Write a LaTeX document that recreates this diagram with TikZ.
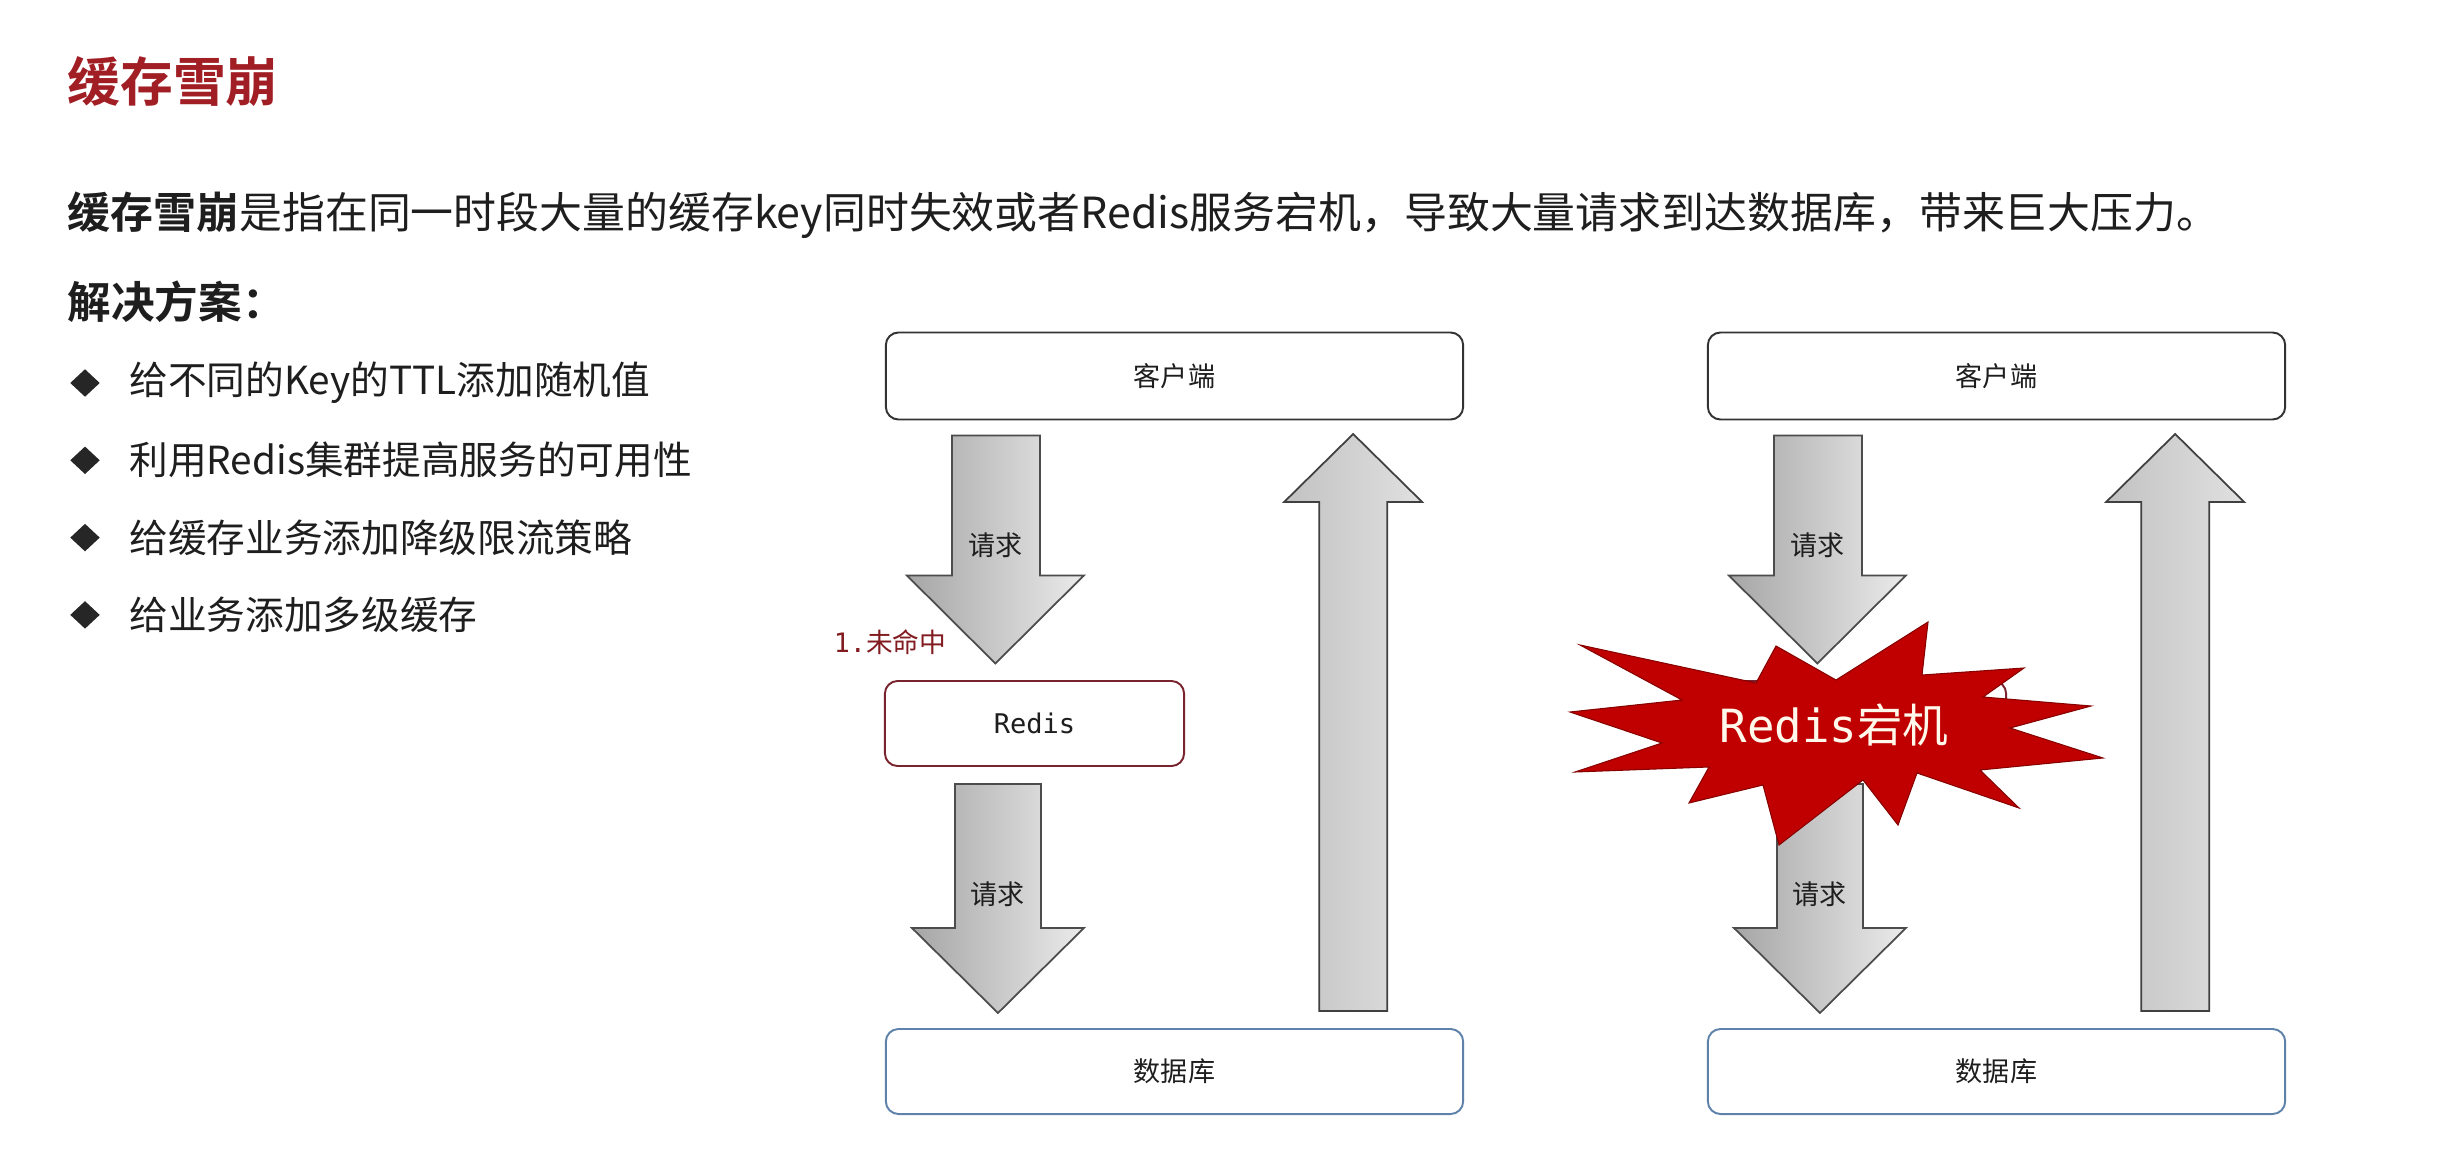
\documentclass[tikz,border=0pt]{standalone}
\usepackage{fontspec}
\setmainfont{Noto Sans CJK SC}[BoldFont={Noto Sans CJK SC Bold}]
\newfontfamily\monofont{DejaVu Sans Mono}
\usetikzlibrary{calc,positioning,shapes.geometric}

\definecolor{titlered}{RGB}{160,30,36}
\definecolor{missred}{RGB}{130,28,32}
\definecolor{boomred}{RGB}{192,0,0}
\definecolor{boomtext}{RGB}{255,248,235}
\definecolor{redisline}{RGB}{120,35,45}
\definecolor{dbline}{RGB}{95,130,170}
\definecolor{ink}{RGB}{30,30,30}

\begin{document}
\begin{tikzpicture}[x=0.01cm,y=-0.01cm,
    every node/.style={text=ink},
    box/.style={draw=black!80,line width=0.55pt,rounded corners=3.6pt,inner sep=0pt,
                minimum width=5.77cm,minimum height=0.87cm,font=\fontsize{7.7}{9}\selectfont},
    cachebox/.style={box,draw=redisline,minimum width=2.99cm,minimum height=0.85cm},
    dbbox/.style={box,draw=dbline,minimum height=0.85cm},
    downarr/.style={draw=black!70,line width=0.5pt,left color=black!35,right color=black!8},
    uparr/.style={draw=black!75,line width=0.5pt,left color=black!24,right color=black!12},
    lbl/.style={font=\fontsize{7.7}{9}\selectfont},
    bul/.style={diamond,fill=black!85,inner sep=0pt,minimum width=0.3cm,minimum height=0.28cm},
    itemtext/.style={font=\fontsize{11}{13}\selectfont,inner sep=0pt}
  ]
  \useasboundingbox[fill=white] (0,0) rectangle (2458,1152);

  % heading and text
  \node[anchor=west,inner sep=0pt,text=titlered,font=\bfseries\fontsize{15}{18}\selectfont] (title) at (67,82) {缓存雪崩};
  \node[anchor=west,inner sep=0pt,font=\fontsize{12.2}{15}\selectfont] (desc) at (67,215)
    {\textbf{缓存雪崩}是指在同一时段大量的缓存key同时失效或者Redis服务宕机，导致大量请求到达数据库，带来巨大压力。};
  \node[anchor=west,inner sep=0pt,font=\bfseries\fontsize{12.4}{15}\selectfont] (plan) at (67,302) {解决方案：};

  \foreach \t [count=\i] in {给不同的Key的TTL添加随机值,利用Redis集群提高服务的可用性,给缓存业务添加降级限流策略,给业务添加多级缓存}{
    \node[bul] (d\i) at (85,{383+(\i-1)*77.3}) {};
    \node[itemtext,right=0.28cm of d\i] (t\i) {\t};
  }

  % the two panels
  \foreach \dx/\p/\c in {0/l/Redis,822/r/}{
    \node[box] (client-\p) at ({1174.5+\dx},376) {客户端};
    \node[cachebox] (redis-\p) at ({1034.5+\dx},723.5) {\monofont \c};
    \node[dbbox] (db-\p) at ({1174.5+\dx},1071.5) {数据库};

    \coordinate (a1-\p) at ($(client-\p.south west)+(111,15)$);
    \path[downarr] (a1-\p) ++(-44,0) -- ++(88,0) -- ++(0,140) -- ++(44,0) -- ++(-88.5,88) -- ++(-88.5,-88) -- ++(45,0) -- cycle;
    \node[lbl] (q1-\p) at ($(a1-\p)+(0,110)$) {请求};

    \coordinate (a2-\p) at ($(redis-\p.south west)+(114,17)$);
    \path[downarr] (a2-\p) ++(-43,0) -- ++(86,0) -- ++(0,144) -- ++(43,0) -- ++(-86,85) -- ++(-86,-85) -- ++(43,0) -- cycle;
    \node[lbl] (q2-\p) at ($(a2-\p)+(0,110)$) {请求};

    \coordinate (a3-\p) at ($(db-\p.north east)+(-111,-17)$);
    \path[uparr] (a3-\p) ++(-34,0) -- ++(0,-509) -- ++(-35,0) -- ++(69,-68) -- ++(69,68) -- ++(-35,0) -- ++(0,509) -- cycle;
  }

  \node[anchor=east,inner sep=0pt,text=missred,font=\fontsize{7.6}{9}\selectfont] (miss)
    at ($(redis-l.north west)+(63,-38)$) {{\monofont 1.}未命中};

  % burst over the right cache
  \path[fill=boomred,draw=boomred!70!black,line width=0.3pt]
    (1580,645) -- (1756,683) -- (1776,646) -- (1836,680) -- (1928,622) -- (1922,675)
    -- (2024,668) -- (1983,697) -- (2091,706) -- (2010,728) -- (2103,758) -- (1980,770)
    -- (2019,808) -- (1917,773) -- (1898,825) -- (1863,780) -- (1779,845) -- (1763,785)
    -- (1689,803) -- (1709,767) -- (1575,772) -- (1662,743) -- (1570,712) -- (1682,700) -- cycle;
  \node[inner sep=0pt,text=boomtext,font=\fontsize{13}{15}\selectfont] (crash) at (1834,725) {{\monofont Redis}宕机};
\end{tikzpicture}
\end{document}
